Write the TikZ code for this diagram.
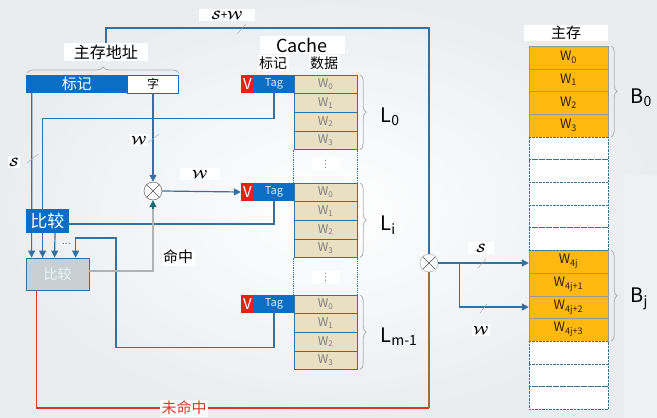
\documentclass[tikz,border=0pt]{standalone}
\usepackage{fontspec}
\usepackage{amsmath}
\setmainfont{Noto Sans CJK SC}
\newfontfamily\symfont{DejaVu Sans}
\usetikzlibrary{arrows.meta,decorations.pathreplacing,positioning}
\definecolor{tblue}{RGB}{10,110,196}
\definecolor{lblue}{RGB}{52,112,160}
\definecolor{vred}{RGB}{232,32,26}
\definecolor{beige}{RGB}{233,223,195}
\definecolor{morange}{RGB}{255,184,14}
\definecolor{bggray}{RGB}{234,237,240}
\definecolor{cmpgray}{RGB}{201,208,212}
\definecolor{missred}{RGB}{214,58,40}
\definecolor{brownline}{RGB}{160,110,50}
\definecolor{hitteal}{RGB}{30,110,122}
\newcommand{\scr}[1]{$\boldsymbol{\mathcal{#1}}$}

\begin{document}
\begin{tikzpicture}[x=1pt,y=-1pt,>={Triangle[length=7pt,width=7pt]}]
    \tikzstyle{vbox}=[fill=vred,text=white,minimum width=13pt,minimum height=18pt,inner sep=0pt,font=\fontsize{15}{15}\selectfont]
    \tikzstyle{tagbox}=[fill=tblue,text=white!85!tblue,minimum width=40pt,minimum height=18pt,inner sep=0pt,font=\fontsize{11}{11}\selectfont]
    \tikzstyle{wcell}=[draw=lblue,fill=beige,minimum width=63pt,minimum height=18.6pt,inner sep=0pt,text=gray,font=\fontsize{12}{12}\selectfont]
    \tikzstyle{mcell}=[draw=gray!80,fill=morange,minimum width=79pt,minimum height=22.7pt,inner sep=0pt,text=black!75!brown,font=\fontsize{13}{13}\selectfont]
    \tikzstyle{ecell}=[draw=lblue,densely dotted,fill=white,minimum width=79pt,minimum height=22.7pt,inner sep=0pt]
    \tikzstyle{lbl}=[fill=white,inner sep=1.5pt]
    \tikzstyle{wlbl}=[lbl,font=\large]
    \tikzstyle{conn}=[draw=lblue,line width=1.2pt]
    \tikzstyle{arr}=[conn,->,color=tblue,draw=lblue]
    \tikzstyle{tick}=[draw=gray!70,thin]
    \tikzstyle{brc}=[decorate,decoration={brace,amplitude=6pt},draw=gray!60,thick]
    \tikzstyle{mult}=[circle,draw=black!70,fill=white,minimum size=18pt,inner sep=0pt,
        path picture={\draw[black!70] (path picture bounding box.north west) -- (path picture bounding box.south east)
        (path picture bounding box.north east) -- (path picture bounding box.south west);}]

    \shade[inner color=white,outer color=bggray] (0,0) rectangle (657,418);
    \fill[bggray!80] (624,175) rectangle (657,418);
    \useasboundingbox (0,0) rectangle (657,418);

    % address
    \node[fill=tblue,text=white,minimum width=101.5pt,minimum height=18pt,inner sep=0pt,font=\fontsize{15}{15}\selectfont] (addr-tag) at (76.75,84) {标记};
    \node[draw=tblue,fill=white,minimum width=51pt,minimum height=18pt,inner sep=0pt,font=\fontsize{12}{12}\selectfont] (addr-word) at (153,84) {字};
    \draw[brc] (27,73) -- (179,73);
    \node[lbl,font=\fontsize{16}{16}\selectfont,minimum width=84pt] (addr) at (106,52) {主存地址};

    % cache
    \node[lbl,font=\fontsize{18}{18}\selectfont,minimum width=85pt] (cache) at (302,45) {Cache};
    \node[lbl,font=\fontsize{14}{14}\selectfont] (c-tag) at (273,63) {标记};
    \node[lbl,font=\fontsize{14}{14}\selectfont] (c-data) at (324,63) {数据};
    \foreach \num/\y/\sub in {0/75/0, 1/183/i, 2/295/m-1}{
        \node[vbox] (V-\num) at (247.5,\y+9) {V};
        \node[tagbox] (T-\num) at (274,\y+9) {Tag};
        \foreach \k in {0,...,3}
            \node[wcell] (W-\num-\k) at (325.5,\y+9.3+\k*18.6) {W\textsubscript{\k}};
        \draw[brc] ([xshift=3pt]W-\num-0.north east) -- ([xshift=3pt]W-\num-3.south east);
        \node[font=\fontsize{20}{20}\selectfont,anchor=west] (L-\num) at (377,\y+42) {L\textsubscript{\sub}};
    }
    \foreach \a/\b in {0/1, 1/2}{
        \draw[lblue,densely dotted,thick] (W-\a-3.south west) -- (W-\b-0.north west);
        \draw[lblue,densely dotted,thick] (W-\a-3.south east) -- (W-\b-0.north east);
    }
    \node[lbl,text=gray,font=\symfont\fontsize{10}{10}\selectfont,minimum width=28pt] (vd-1) at (325.5,164) {⋮};
    \node[lbl,text=gray,font=\symfont\fontsize{10}{10}\selectfont,minimum width=28pt] (vd-2) at (325.5,277) {⋮};

    % main memory
    \node[lbl,font=\fontsize{15}{15}\selectfont,minimum width=84pt] (mem) at (566,33) {主存};
    \foreach \num/\txt in {0/0, 1/1, 2/2, 3/3, 9/4j, 10/4j+1, 11/4j+2, 12/4j+3}
        \node[mcell] (M-\num) at (568.5,57.35+\num*22.7) {W\textsubscript{\txt}};
    \foreach \num in {4,...,8,13,14,15}
        \node[ecell] (M-\num) at (568.5,57.35+\num*22.7) {};
    \draw[brc] ([xshift=3pt]M-0.north east) -- ([xshift=3pt]M-3.south east);
    \draw[brc] ([xshift=3pt]M-9.north east) -- ([xshift=3pt]M-12.south east);
    \node[font=\fontsize{20}{20}\selectfont,anchor=west] (B-0) at (627,98) {B\textsubscript{0}};
    \node[font=\fontsize{20}{20}\selectfont,anchor=west] (B-j) at (627,299) {B\textsubscript{j}};

    % compare and select
    \node[draw=lblue,thick,fill=cmpgray,text=white!90!cyan,minimum width=63pt,minimum height=32pt,inner sep=0pt,font=\fontsize{14}{14}\selectfont] (cmp-box) at (57.5,274) {比较};
    \draw[conn] (T-0.south) -- ++(0,25) -| ([xshift=17pt]cmp-box.north west);
    \draw[arr] ([xshift=17pt]cmp-box.north west) ++(0,-20) -- ([xshift=17pt]cmp-box.north west);
    \draw[arr] ([xshift=6pt]addr-tag.south west) -- ([xshift=6pt]cmp-box.north west);
    \node[fill=tblue,text=white,minimum width=43pt,minimum height=24pt,inner sep=0pt,font=\fontsize{17}{17}\selectfont] (cmp) at (47.5,221) {比较};
    \draw[conn] (T-1.south) |- ([yshift=-3pt]cmp.east);
    \draw[arr] ([xshift=7.5pt]cmp.south) -- ([xshift=29pt]cmp-box.north west);
    \coordinate (bend) at (116,238);
    \draw[arr] (T-2.south) -- ++(0,34) -| (bend) -| ([xshift=50pt]cmp-box.north west);
    \node[lbl,inner sep=0.5pt,font=\fontsize{8}{8}\selectfont] (dots) at (66,244) {\ldots};

    \node[mult] (mul) at (153,191) {};
    \node[mult,draw=gray!70] (mux) at (429,263) {};
    \coordinate (miss) at (429,408);

    \draw[arr] (addr-word.south) -- (mul.north);
    \draw[line width=1.2pt,draw=gray!60,-{Triangle[length=7pt,width=7pt]},color=hitteal] ([yshift=3pt]cmp-box.east) -| (mul.south);
    \draw[line width=1.2pt,draw=gray!60] ([yshift=3pt]cmp-box.east) -| ([yshift=-9pt]mul.south);
    \node[lbl,font=\fontsize{15}{15}\selectfont] (hit) at (178,257) {命中};
    \draw[arr] (mul.east) -- (V-1.west);

    \draw[line width=1.2pt,missred] ([xshift=11pt]cmp-box.south west) |- (miss);
    \draw[line width=1.2pt,brownline] (miss) -- (mux.south);
    \node[lbl,text=missred,font=\fontsize{15}{15}\selectfont] (miss-lbl) at (184,408) {未命中};

    \draw[conn] (addr.north) -- ++(0,-15) -| (mux.north);
    \draw[arr] (mux.east) -- (mux.east -| M-9.west);
    \draw[arr] (mux.east) -- ++(21,0) |- (M-11.west);

    % widths
    \node[wlbl,minimum width=56pt] (sw) at (227,15) {\scr{S}{+}\scr{W}};
    \node[wlbl] (s-left) at (14,162) {\scr{S}};
    \node[wlbl] (w-word) at (139,140) {\scr{W}};
    \node[wlbl,minimum width=40pt] (w-mul) at (200,174) {\scr{W}};
    \node[wlbl,minimum width=26pt] (s-right) at (481,248) {\scr{S}};
    \node[wlbl] (w-right) at (481,330) {\scr{W}};
    \draw[tick] (237,34) -- (246,24);
    \draw[tick] (27,163) -- (38,154);
    \draw[tick] (148,143) -- (159,134);
    \draw[tick] (478,268) -- (486,259);
    \draw[tick] (480,313) -- (487,304);
\end{tikzpicture}
\end{document}
